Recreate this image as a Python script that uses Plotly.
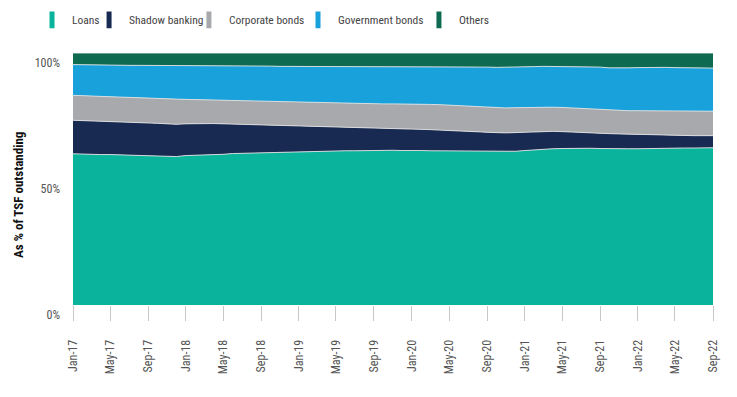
import plotly.graph_objects as go
import pandas as pd

months = pd.date_range("2017-01-01", "2022-09-01", freq="MS").strftime("%Y-%m-%d").tolist()

loans = [60.0, 59.8, 59.8, 59.7, 59.7, 59.6, 59.5, 59.4, 59.4, 59.3, 59.1, 58.9,
         59.3, 59.4, 59.5, 59.6, 59.8, 60.1, 60.2, 60.3, 60.4, 60.5, 60.6, 60.6,
         60.9, 60.8, 61.0, 61.0, 61.1, 61.2, 61.2, 61.3, 61.3, 61.4, 61.4, 61.3,
         61.4, 61.3, 61.2, 61.2, 61.1, 61.1, 61.0, 61.0, 60.9, 61.0, 61.0, 61.0,
         61.3, 61.6, 61.8, 62.0, 62.1, 62.2, 62.3, 62.2, 62.1, 62.0, 62.0, 62.0,
         62.0, 62.1, 62.3, 62.3, 62.4, 62.3, 62.3, 62.3, 62.4]
shadow = [13.3, 13.4, 13.3, 13.3, 13.2, 13.2, 13.1, 13.0, 12.8, 12.8, 12.8, 12.8,
          12.6, 12.6, 12.5, 12.4, 12.1, 11.7, 11.5, 11.3, 11.1, 10.9, 10.7, 10.6,
          10.2, 10.2, 10.0, 9.9, 9.7, 9.4, 9.3, 9.1, 8.9, 8.7, 8.6, 8.6,
          8.5, 8.5, 8.4, 8.2, 8.1, 7.9, 7.8, 7.6, 7.6, 7.4, 7.3, 7.4,
          7.3, 7.2, 7.1, 6.9, 6.7, 6.4, 6.1, 6.1, 6.1, 6.0, 5.9, 5.8,
          5.7, 5.5, 5.2, 5.0, 4.9, 4.9, 4.9, 4.9, 4.8]
corporate = [9.9, 9.8, 9.7, 9.7, 9.7, 9.7, 9.8, 9.8, 9.9, 9.8, 9.9, 10.0,
             9.7, 9.5, 9.4, 9.4, 9.4, 9.4, 9.4, 9.4, 9.4, 9.4, 9.3, 9.3,
             9.4, 9.4, 9.3, 9.3, 9.3, 9.4, 9.5, 9.5, 9.7, 9.7, 9.8, 9.9,
             9.9, 10.0, 10.0, 10.1, 10.1, 10.1, 10.1, 10.1, 10.0, 9.9, 9.9, 9.9,
             9.8, 9.7, 9.6, 9.6, 9.6, 9.6, 9.6, 9.5, 9.4, 9.4, 9.3, 9.3,
             9.4, 9.5, 9.6, 9.8, 9.7, 9.8, 9.7, 9.7, 9.7]
government = [12.2, 12.3, 12.5, 12.5, 12.6, 12.7, 12.7, 12.9, 13.0, 13.2, 13.3, 13.3,
              13.4, 13.5, 13.7, 13.7, 13.8, 13.9, 13.9, 13.9, 13.9, 14.0, 14.1, 14.2,
              14.2, 14.3, 14.4, 14.5, 14.6, 14.7, 14.7, 14.8, 14.8, 14.9, 14.9, 14.9,
              14.8, 14.8, 15.0, 15.0, 15.2, 15.4, 15.5, 15.7, 15.9, 16.0, 16.1, 16.1,
              16.1, 16.1, 16.2, 16.2, 16.3, 16.5, 16.7, 16.8, 16.8, 16.7, 16.8, 17.0,
              17.1, 17.2, 17.2, 17.2, 17.2, 17.1, 17.1, 17.1, 17.1]
others = [4.6, 4.7, 4.7, 4.8, 4.8, 4.8, 4.9, 4.9, 4.9, 4.9, 4.9, 5.0,
          5.0, 5.0, 4.9, 4.9, 4.9, 4.9, 5.0, 5.1, 5.2, 5.2, 5.3, 5.3,
          5.3, 5.3, 5.3, 5.3, 5.3, 5.3, 5.3, 5.3, 5.3, 5.3, 5.3, 5.3,
          5.4, 5.4, 5.4, 5.5, 5.5, 5.5, 5.6, 5.6, 5.6, 5.7, 5.7, 5.6,
          5.5, 5.4, 5.3, 5.3, 5.3, 5.3, 5.3, 5.4, 5.6, 5.9, 6.0, 5.9,
          5.8, 5.7, 5.7, 5.7, 5.8, 5.9, 6.0, 6.0, 6.0]

series_names = ["Loans", "Shadow banking", "Corporate bonds", "Government bonds", "Others"]
series_values = [loans, shadow, corporate, government, others]
colors = ["#0AB39B", "#182A52", "#A7A9AC", "#18A1DB", "#0E6B51"]

y_tick_vals = [0, 50, 100]
y_tick_text = ["0%", "50%", "100%"]

FONT = "Roboto Condensed, Liberation Sans Narrow, DejaVu Sans Condensed, Roboto, sans-serif"

# one legend per entry so each can sit where the reference puts it
legend_ids = ["legend", "legend2", "legend3", "legend4", "legend5"]
legend_x = [0.0326, 0.110, 0.2455, 0.3935, 0.5576]

fig = go.Figure()
for name, vals, col in zip(series_names, series_values, colors):
    fig.add_trace(go.Scatter(
        x=months, y=vals, name=name, mode="lines", stackgroup="one",
        fillcolor=col, line=dict(width=1, color="rgba(225,225,225,0.9)"),
        showlegend=False, hoverinfo="x+y+name"))
for name, col, lid in zip(series_names, colors, legend_ids):
    fig.add_trace(go.Scatter(
        x=[None], y=[None], name=name, mode="markers", legend=lid,
        marker=dict(symbol="line-ns", size=12, color=col, line=dict(width=5, color=col)),
        showlegend=True))

legend_common = dict(orientation="h", xref="container", yref="container",
                     y=0.97, xanchor="left", yanchor="middle", itemwidth=30,
                     font=dict(size=11.5, color="#444444"), bgcolor="rgba(0,0,0,0)")
layout_legends = {lid: dict(legend_common, x=lx) for lid, lx in zip(legend_ids, legend_x)}

fig.update_layout(
    width=737, height=397,
    margin=dict(l=65, r=32, t=45, b=100, autoexpand=False),
    paper_bgcolor="white", plot_bgcolor="white",
    font=dict(family=FONT, size=12, color="#555555"),
    showlegend=True,
    **layout_legends,
)
fig.add_annotation(
    text="<b>As % of TSF outstanding</b>", textangle=-90,
    xref="paper", yref="paper", x=-0.0859, y=0.4365,
    xanchor="center", yanchor="middle", showarrow=False,
    font=dict(size=13, color="#111111", family=FONT),
)
fig.update_xaxes(
    type="date", range=[months[0], months[-1]],
    tickmode="linear", tick0=months[0], dtick="M4", tickformat="%b-%y",
    tickangle=-90, ticks="outside", ticklen=15, tickcolor="#c8c8c8", tickwidth=1,
    ticklabelstandoff=14,
    showgrid=False, zeroline=False, showline=False,
    tickfont=dict(size=12, color="#555555"),
)
fig.update_yaxes(
    range=[0, 100], tickvals=y_tick_vals, ticktext=y_tick_text,
    ticks="", showgrid=False, zeroline=False, showline=False,
    ticklabelshift=10, ticklabelstandoff=12,
    tickfont=dict(size=12, color="#555555"),
)

fig.write_html("out.html")
